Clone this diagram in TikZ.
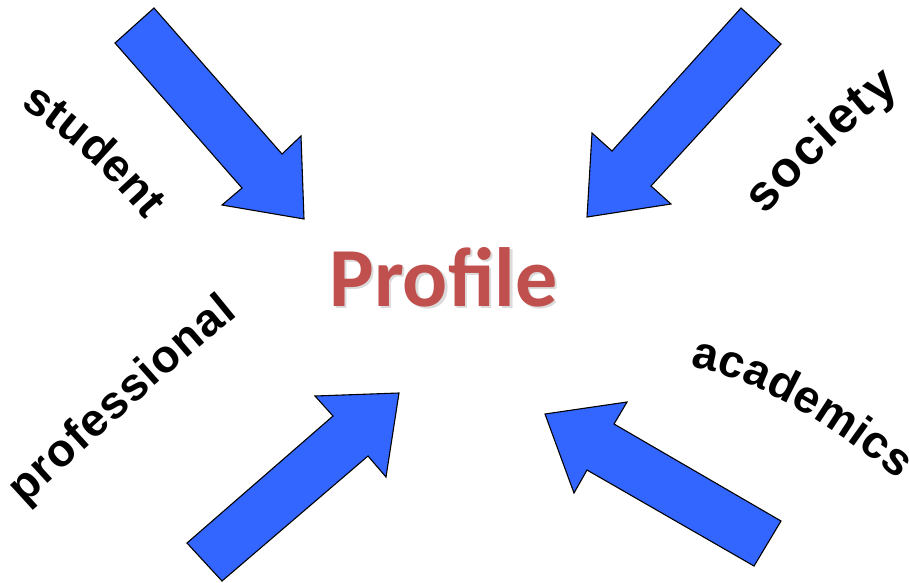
\documentclass[tikz,border=0pt]{standalone}
\usepackage{fontspec}
\setmainfont{Liberation Sans}
\newfontfamily\labelfont{Liberation Sans}
\newfontfamily\titlefont{Carlito}
\usetikzlibrary{decorations.text}
\definecolor{arrowblue}{RGB}{51,102,255}
\definecolor{profilered}{RGB}{192,80,77}
\newcommand{\lblfont}{\labelfont\bfseries\fontsize{46}{46}\selectfont}
\newcommand{\lblfontlarge}{\labelfont\bfseries\fontsize{50}{50}\selectfont}
\tikzset{
  bluearrow/.style={fill=arrowblue, draw=black, line width=1.1pt, line join=miter},
  curvedlabel/.style={decorate, decoration={text along path, text align={fit to path}, text={|\lblfont|#1}}},
  curvedlabellarge/.style={decorate, decoration={text along path, text align={fit to path}, text={|\lblfontlarge|#1}}},
  titletext/.style={font=\titlefont\bfseries\fontsize{84}{84}\selectfont, anchor=base, inner sep=0pt},
}
\begin{document}
\begin{tikzpicture}[x=1pt, y=-1pt]
  \fill[white] (0,0) rectangle (909,582);
  \useasboundingbox (0,0) rectangle (909,582);

  % central title with a soft drop shadow
  \node[titletext, text=black, opacity=0.14] (profileshadow) at (446,308.5) {Profile};
  \node[titletext, text=profilered] (profile) at (443.5,306) {Profile};

  % arrow from the upper left (student)
  \draw[bluearrow] (154,8) -- (115,43) -- (242,188) -- (222,205) -- (304,219)
                   -- (301,136) -- (282,154) -- cycle;
  % arrow from the upper right (society)
  \draw[bluearrow] (741,8) -- (781,44) -- (651,186) -- (671,204) -- (587,217)
                   -- (592,133) -- (612,151) -- cycle;
  % arrow from the lower left (professional)
  \draw[bluearrow] (187,543) -- (222,581) -- (368,456) -- (386,477) -- (399,393)
                   -- (315,396) -- (333,416) -- cycle;
  % arrow from the lower right (academics)
  \draw[bluearrow] (781,521) -- (754,566) -- (587,470) -- (574,493) -- (545,414)
                   -- (627,402) -- (614,424) -- cycle;

  % curved labels
  \path[curvedlabel=student] (20,107) .. controls (70,138) and (110,178) .. (146,220);
  \path[curvedlabellarge=society] (766,216) .. controls (796,180) and (850,128) .. (900,90);
  \path[curvedlabel=professional] (24,505) .. controls (90,445) and (170,370) .. (238,315);
  \path[curvedlabel=academics] (690,367) .. controls (760,377) and (850,438) .. (898,480);
\end{tikzpicture}
\end{document}
